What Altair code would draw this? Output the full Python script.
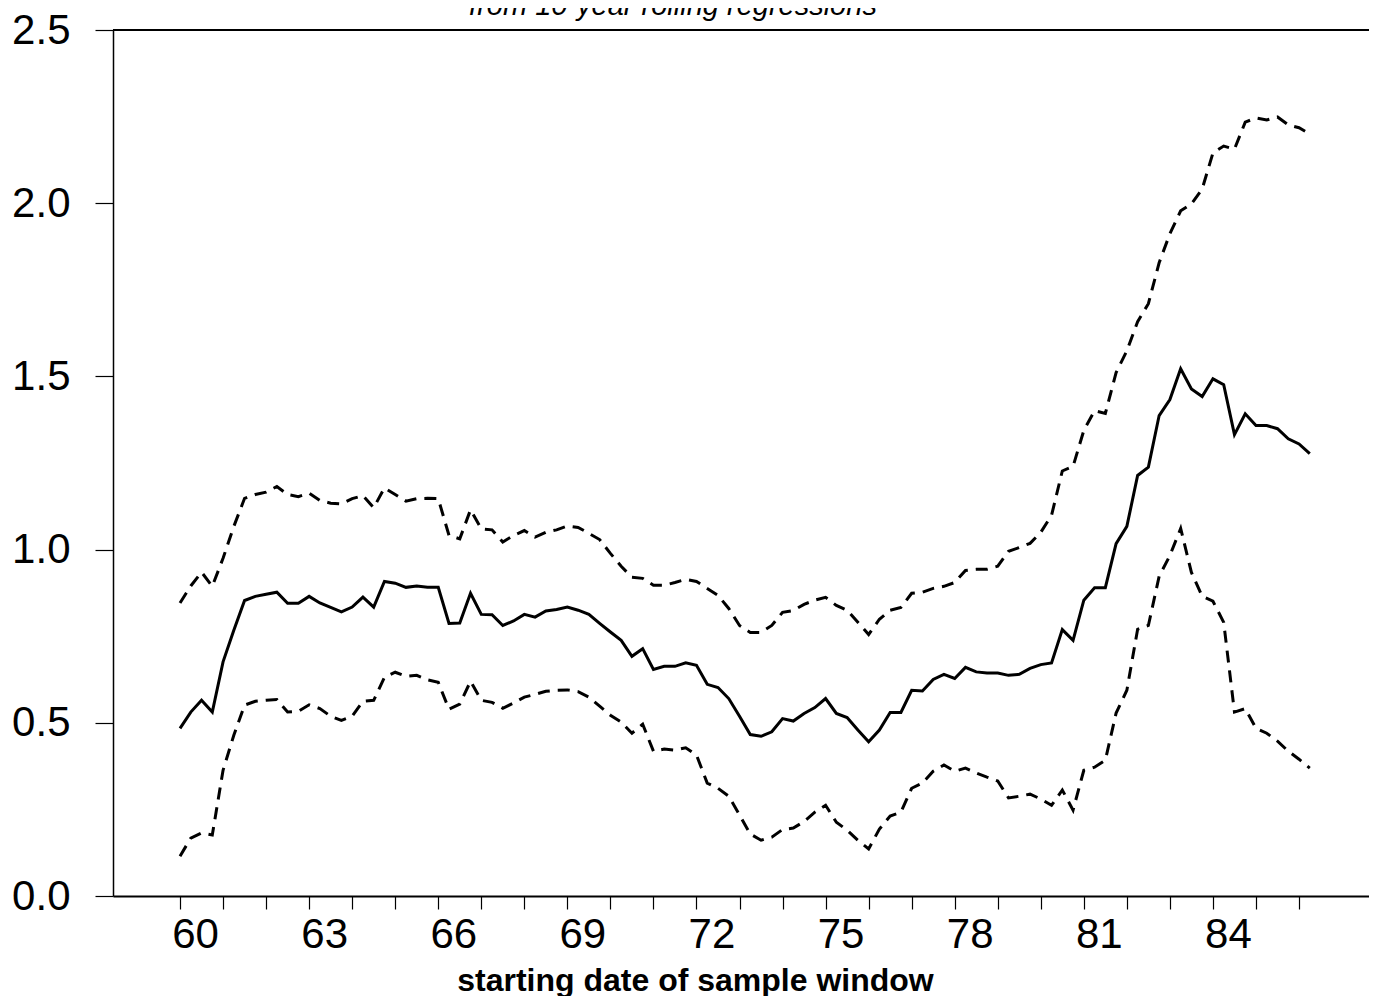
import altair as alt
import pandas as pd

# quarterly starting dates 1960Q1 .. 1986Q2
start_year = 60
n_quarters = 106

center = [0.484, 0.531, 0.565, 0.531, 0.676, 0.767, 0.853, 0.865, 0.871, 0.877,
          0.845, 0.845, 0.865, 0.846, 0.833, 0.820, 0.834, 0.863, 0.834, 0.908,
          0.903, 0.891, 0.895, 0.891, 0.891, 0.787, 0.788, 0.874, 0.813, 0.812,
          0.781, 0.794, 0.813, 0.805, 0.823, 0.827, 0.834, 0.825, 0.813, 0.787,
          0.762, 0.738, 0.692, 0.714, 0.654, 0.663, 0.663, 0.673, 0.666, 0.611,
          0.602, 0.570, 0.519, 0.466, 0.461, 0.474, 0.512, 0.505, 0.527, 0.544,
          0.570, 0.527, 0.515, 0.479, 0.445, 0.479, 0.530, 0.530, 0.594, 0.592,
          0.625, 0.640, 0.628, 0.660, 0.647, 0.644, 0.644, 0.637, 0.640, 0.657,
          0.668, 0.673, 0.769, 0.738, 0.854, 0.890, 0.890, 1.017, 1.067, 1.214,
          1.238, 1.387, 1.433, 1.522, 1.464, 1.442, 1.493, 1.476, 1.332, 1.392,
          1.358, 1.358, 1.349, 1.320, 1.305, 1.277]

upper = [0.846, 0.895, 0.935, 0.894, 0.975, 1.067, 1.148, 1.159, 1.166, 1.182,
         1.159, 1.153, 1.163, 1.142, 1.134, 1.132, 1.147, 1.156, 1.121, 1.178,
         1.159, 1.140, 1.147, 1.148, 1.147, 1.041, 1.031, 1.115, 1.060, 1.057,
         1.022, 1.041, 1.055, 1.036, 1.050, 1.057, 1.068, 1.064, 1.047, 1.029,
         0.989, 0.952, 0.920, 0.917, 0.897, 0.897, 0.905, 0.914, 0.908, 0.888,
         0.868, 0.830, 0.781, 0.761, 0.761, 0.781, 0.819, 0.824, 0.842, 0.854,
         0.862, 0.839, 0.825, 0.790, 0.755, 0.799, 0.825, 0.833, 0.874, 0.877,
         0.888, 0.894, 0.905, 0.940, 0.943, 0.943, 0.952, 0.995, 1.006, 1.018,
         1.050, 1.099, 1.227, 1.240, 1.344, 1.401, 1.393, 1.511, 1.574, 1.658,
         1.710, 1.828, 1.912, 1.978, 1.998, 2.041, 2.145, 2.165, 2.156, 2.234,
         2.246, 2.240, 2.249, 2.226, 2.218, 2.200]

lower = [0.115, 0.167, 0.182, 0.176, 0.363, 0.464, 0.551, 0.562, 0.565, 0.567,
         0.531, 0.533, 0.552, 0.541, 0.519, 0.507, 0.519, 0.562, 0.565, 0.631,
         0.646, 0.634, 0.637, 0.624, 0.617, 0.539, 0.554, 0.620, 0.565, 0.559,
         0.542, 0.557, 0.574, 0.582, 0.591, 0.594, 0.595, 0.590, 0.574, 0.548,
         0.522, 0.502, 0.470, 0.496, 0.418, 0.424, 0.421, 0.428, 0.407, 0.326,
         0.311, 0.288, 0.234, 0.179, 0.161, 0.170, 0.192, 0.196, 0.215, 0.242,
         0.262, 0.213, 0.190, 0.161, 0.136, 0.193, 0.231, 0.242, 0.311, 0.326,
         0.360, 0.378, 0.360, 0.369, 0.355, 0.343, 0.332, 0.283, 0.288, 0.294,
         0.280, 0.262, 0.306, 0.248, 0.363, 0.372, 0.392, 0.528, 0.594, 0.770,
         0.781, 0.923, 0.983, 1.061, 0.934, 0.865, 0.851, 0.790, 0.531, 0.541,
         0.484, 0.470, 0.447, 0.418, 0.395, 0.369]

x_tick_values = [60 + 0.5 * k for k in range(53)]   # 60, 60.5, ..., 86
y_tick_values = [0.0, 0.5, 1.0, 1.5, 2.0, 2.5]
title_text = "from 10-year rolling regressions"
x_title = "starting date of sample window"

t = [start_year + q / 4 for q in range(n_quarters)]
df = pd.DataFrame({"t": t, "center": center, "upper": upper, "lower": lower})

FONT = "Liberation Sans"

xscale = alt.Scale(domain=[58.443, 87.626], nice=False, zero=False)
yscale = alt.Scale(domain=[0, 2.5], nice=False)

xaxis = alt.Axis(
    values=x_tick_values,
    tickSize={"condition": {"test": "datum.value % 1 === 0", "value": 13}, "value": 6},
    tickColor="black", tickWidth=1.2,
    domainColor="black", domainWidth=2,
    labelExpr="(datum.value % 3 === 0) ? format(datum.value, 'd') : ''",
    labelFontSize=42, labelFont=FONT, labelColor="black",
    labelOffset=15, labelPadding=5, labelFlush=False, labelOverlap=False,
    grid=False,
    title=x_title, titleFont=FONT, titleFontSize=32, titleFontWeight="bold",
    titleColor="black", titleX=582, titleY=94, titleAlign="center",
    titleBaseline="alphabetic",
)
yaxis = alt.Axis(
    values=y_tick_values, format=".1f",
    tickSize=18, tickColor="black", tickWidth=1.2,
    domainColor="black", domainWidth=1.5,
    labelFontSize=42, labelFont=FONT, labelColor="black",
    labelPadding=25, labelFlush=False, grid=False, title=None,
)

base = alt.Chart(df)

mid = base.mark_line(color="black", strokeWidth=3).encode(
    x=alt.X("t:Q", scale=xscale, axis=xaxis),
    y=alt.Y("center:Q", scale=yscale, axis=yaxis),
)
up = base.mark_line(color="black", strokeWidth=3, strokeDash=[12, 8]).encode(
    x=alt.X("t:Q", scale=xscale), y=alt.Y("upper:Q", scale=yscale)
)
lo = base.mark_line(color="black", strokeWidth=3, strokeDash=[12, 8]).encode(
    x=alt.X("t:Q", scale=xscale), y=alt.Y("lower:Q", scale=yscale)
)
top = alt.Chart(pd.DataFrame({"v": [2.5]})).mark_rule(color="black", strokeWidth=2).encode(
    y=alt.Y("v:Q", scale=yscale)
)
ttl = alt.Chart(pd.DataFrame({"s": [title_text]})).mark_text(
    font=FONT, fontSize=29, fontStyle="italic", align="center", baseline="alphabetic",
    color="black",
).encode(text="s:N", x=alt.value(560), y=alt.value(-15))

chart = alt.layer(mid, up, lo, top, ttl).properties(
    width=1256, height=866,
    autosize=alt.AutoSizeParams(type="none"),
    padding={"left": 105, "top": 22, "right": 0, "bottom": 100},
).configure_view(stroke=None).configure(background="white")

chart.save("out.html", embed_options={"renderer": "svg", "actions": False})
